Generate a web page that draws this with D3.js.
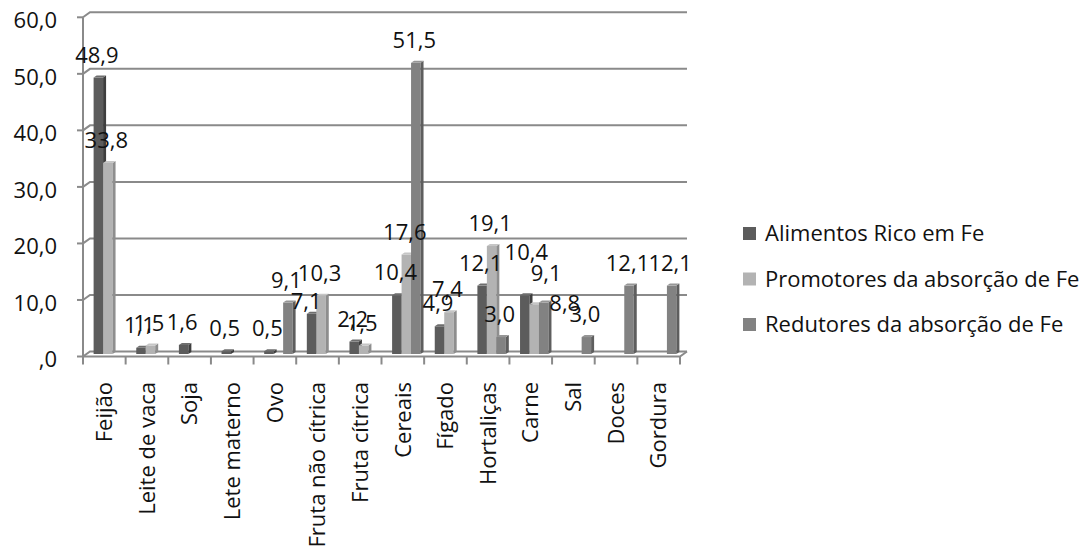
<!DOCTYPE html>
<html><head><meta charset="utf-8">
<script src="https://cdn.jsdelivr.net/npm/d3@7"></script>
<style>html,body{margin:0;padding:0;background:#fff;}svg{display:block;}text{font-family:"Open Sans",sans-serif;fill:#111;}</style>
</head><body>
<svg id="chart" width="1089" height="549"></svg>
<script>
const categories = ["Feijão","Leite de vaca","Soja","Lete materno","Ovo","Fruta não cítrica","Fruta cítrica","Cereais","Fígado","Hortaliças","Carne","Sal","Doces","Gordura"];
const seriesNames = ["Alimentos Rico em Fe","Promotores da absorção de Fe","Redutores da absorção de Fe"];
const alimentos = [48.9, 1.1, 1.6, 0.5, 0.5, 7.1, 2.2, 10.4, 4.9, 12.1, 10.4, null, null, null];
const promotores = [33.8, 1.5, null, null, null, 10.3, 1.5, 17.6, 7.4, 19.1, 8.8, null, null, null];
const redutores = [null, null, null, null, 9.1, null, null, 51.5, null, 3.0, 9.1, 3.0, 12.1, 12.1];
const yTicks = [0,10,20,30,40,50,60];
const yTickLabels = [",0","10,0","20,0","30,0","40,0","50,0","60,0"];

const seriesValues = [alimentos, promotores, redutores];
const colors = {front:["#5c5c5c","#b3b3b3","#828282"], side:["#3e3e3e","#8e8e8e","#5e5e5e"], top:["#6e6e6e","#c6c6c6","#969696"]};
// label nudges (Excel manual label placement)
const labelNudge = {"Fruta não cítrica|0":[-4,10],"Carne|0":[3,-20],"Carne|2":[4,-7],"Carne|1":[32,22]};

const FS = 22;
const svg = d3.select("#chart");
const left = 83, right = 680;
const y = d3.scaleLinear().domain([0,60]).range([356.5,17.3]);
const DX = 7, DY = -5; // wall depth offset
const x0 = d3.scaleBand().domain(categories).range([left,right]).paddingInner(0).paddingOuter(0);
const x1 = d3.scaleBand().domain([0,1,2]).range([0,x0.bandwidth()]).paddingInner(0).paddingOuter(0.75);
const grid = "#8a8a8a";

// gridlines on back wall with diagonal to front axis
const g = svg.append("g");
yTicks.forEach(t=>{
  const yf = y(t), yb = y(t)+DY;
  g.append("path").attr("d",`M${left},${yf}L${left+DX},${yb}L${right+DX},${yb}`)
    .attr("fill","none").attr("stroke",grid).attr("stroke-width",2);
});
// floor front edge & right diagonal
g.append("path").attr("d",`M${left},${y(0)}L${right},${y(0)}L${right+DX},${y(0)+DY}`).attr("fill","none").attr("stroke",grid).attr("stroke-width",2);
// y axis
g.append("line").attr("x1",left).attr("x2",left).attr("y1",y(60)).attr("y2",y(0)+8).attr("stroke",grid).attr("stroke-width",2);
yTicks.forEach((t,i)=>{
  g.append("line").attr("x1",left-6).attr("x2",left).attr("y1",y(t)).attr("y2",y(t)).attr("stroke",grid).attr("stroke-width",2);
  svg.append("text").attr("x",57).attr("y",y(t)+3).attr("dy","0.35em").attr("text-anchor","end")
    .attr("font-size",FS).text(yTickLabels[i]);
});
// x ticks
categories.forEach((c,i)=>{
  const xx = x0(c)+x0.bandwidth();
  g.append("line").attr("x1",xx).attr("x2",xx).attr("y1",y(0)).attr("y2",y(0)+8).attr("stroke",grid).attr("stroke-width",2);
});

// bars
const bx = DX/2, by = DY/2, sd = 3, sh = -2;
const bars = svg.append("g");
const labels = [];
categories.forEach((c,ci)=>{
  seriesValues.forEach((vals,si)=>{
    const v = vals[ci];
    if (v==null) return;
    const xl = x0(c)+x1(si)+bx, w = x1.bandwidth();
    const yt = y(v)+by, yb = y(0)+by;
    bars.append("rect").attr("x",xl).attr("y",yt).attr("width",w).attr("height",yb-yt).attr("fill",colors.front[si]);
    bars.append("path").attr("d",`M${xl+w},${yt}L${xl+w+sd},${yt+sh}L${xl+w+sd},${yb+sh}L${xl+w},${yb}Z`).attr("fill",colors.side[si]);
    bars.append("path").attr("d",`M${xl},${yt}L${xl+sd},${yt+sh}L${xl+w+sd},${yt+sh}L${xl+w},${yt}Z`).attr("fill",colors.top[si]);
    const n = labelNudge[c+"|"+si] || [0,0];
    labels.push({x:xl+w/2-1.5+n[0], y:yt-15+n[1], t:d3.format(".1f")(v).replace(".",",")});
  });
});
svg.append("g").selectAll("text").data(labels).join("text")
  .attr("x",d=>d.x).attr("y",d=>d.y).attr("text-anchor","middle").attr("font-size",FS).text(d=>d.t);

// x labels
svg.append("g").selectAll("text").data(categories).join("text")
  .attr("transform",c=>`translate(${x0(c)+x0.bandwidth()/2},382) rotate(-90)`)
  .attr("text-anchor","end").attr("dy","0.35em").attr("font-size",FS).text(c=>c);

// legend
const lg = svg.append("g");
seriesNames.forEach((s,i)=>{
  const cy = 233.5 + i*45.5;
  lg.append("rect").attr("x",743).attr("y",cy-6.5).attr("width",13).attr("height",13).attr("fill",colors.front[i]);
  lg.append("text").attr("x",765).attr("y",cy).attr("dy","0.35em").attr("font-size",FS).text(s);
});
</script>
</body></html>
